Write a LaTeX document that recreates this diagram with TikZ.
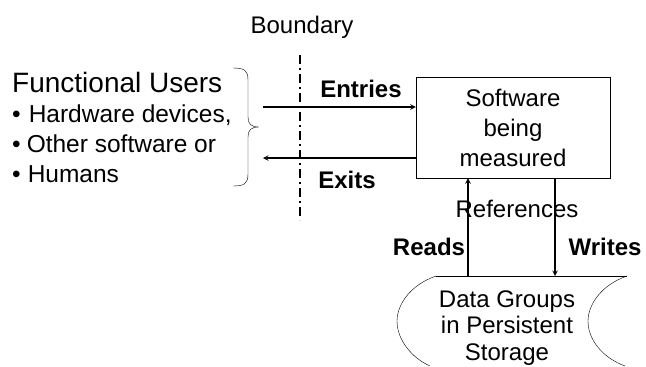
\documentclass[tikz,border=0pt]{standalone}
\usepackage{fontspec}
\setmainfont{Liberation Sans}
\usepackage{tikz}
\usetikzlibrary{positioning}
\usetikzlibrary{shapes.geometric, arrows}
\tikzstyle{arrow} = [line width=1.4pt,->,>=stealth]
\tikzstyle{txt} = [inner sep=0pt,font=\fontsize{24}{30}\selectfont]
\tikzstyle{item} = [inner sep=0pt,anchor=base west,font=\fontsize{24.5}{30}\selectfont]
\tikzstyle{lbl} = [inner sep=0pt,anchor=base,font=\fontsize{24}{28}\selectfont\bfseries]

\begin{document}
\begin{tikzpicture}[x=1pt,y=-1pt]
\useasboundingbox (0,0) rectangle (646,367);
%Nodes
\node [draw,thin,minimum width=194pt,minimum height=101pt,align=center,txt] (sw) at (513,127.5) {Software\\being\\measured};
\node [txt,anchor=base] (bnd) at (302,33) {Boundary};
\node [txt,anchor=base west,font=\fontsize{28}{30}\selectfont] (fu) at (12,92) {Functional Users};
\node [item] (hw) at (12,122) {\textbullet\hspace{8pt}Hardware devices,};
\node [item] (os) at (12,152) {\textbullet\hspace{6pt}Other software or};
\node [item] (hu) at (12,182) {\textbullet\hspace{7pt}Humans};
\node [txt,align=center,font=\fontsize{24}{26.5}\selectfont] (store) at (507,328) {Data Groups\\in Persistent\\Storage};

%Labels
\node [lbl] (ent) at (361,97) {Entries};
\node [lbl] (ext) at (347,188) {Exits};
\node [lbl] (rds) at (429,255) {Reads};
\node [lbl] (wrt) at (605,255) {Writes};
\node [txt,anchor=base] (refs) at (517,217) {References};

%Ends
\coordinate (inS) at (263,107);
\coordinate (outE) at (263,158);
\coordinate (rdS) at (468,276);
\coordinate (wrE) at (555,276);
\coordinate (bTop) at (300,55);
\coordinate (bBot) at (300,220);

%Lines
\draw[arrow] (inS) -- (inS -| sw.west);
\draw[arrow] (outE -| sw.west) -- (outE);
\draw[arrow] (rdS) -- (rdS |- sw.south);
\draw[arrow] (wrE |- sw.south) -- (wrE);
\draw[line width=1.4pt,dash pattern=on 9pt off 4pt on 2pt off 4pt] (bTop) -- (bBot);

%Brace
\draw[thin] (233,68) .. controls (244,68) and (248,70) .. (248,80) -- (248,117)
  .. controls (248,124) and (251,127) .. (259,127) .. controls (251,127) and (248,130) .. (248,137)
  -- (248,174) .. controls (248,184) and (244,186) .. (233,186);

%Storage
\draw[thin] (436,276) -- (627,276);
\draw[thin] (436,276) .. controls (410,285) and (397,305) .. (397,321) .. controls (397,340) and (412,358) .. (430,366);
\draw[thin] (627,276) .. controls (601,285) and (588,305) .. (588,321) .. controls (588,340) and (603,358) .. (625,366);
\end{tikzpicture}
\end{document}
